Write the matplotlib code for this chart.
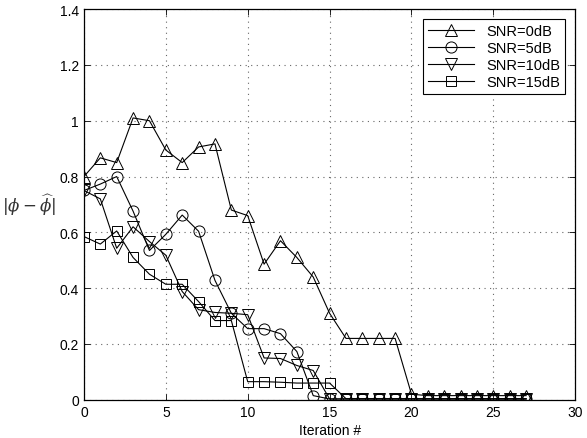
import matplotlib
matplotlib.use("Agg")
import matplotlib.pyplot as plt
import numpy as np

plt.rcParams.update({
    "font.family": ["Liberation Sans", "DejaVu Sans"],
    "font.size": 10,
    "mathtext.fontset": "dejavuserif",
    "xtick.direction": "in",
    "ytick.direction": "in",
})

iters = np.arange(28)
snr0 = [0.80, 0.867, 0.85, 1.01, 1.00, 0.895, 0.85, 0.906, 0.917, 0.68,
        0.66, 0.486, 0.57, 0.51, 0.44, 0.31, 0.22, 0.22, 0.22, 0.22,
        0.02, 0.015, 0.015, 0.015, 0.015, 0.015, 0.015, 0.015]
snr5 = [0.75, 0.773, 0.80, 0.676, 0.535, 0.593, 0.662, 0.604, 0.428, 0.31,
        0.255, 0.255, 0.237, 0.173, 0.015, 0.003, 0.003, 0.003, 0.003, 0.003,
        0.003, 0.003, 0.003, 0.003, 0.003, 0.003, 0.003, 0.003]
snr10 = [0.75, 0.72, 0.543, 0.62, 0.567, 0.518, 0.388, 0.323, 0.313, 0.31,
         0.305, 0.15, 0.148, 0.123, 0.105, 0.003, 0.003, 0.003, 0.003, 0.003,
         0.003, 0.003, 0.003, 0.003, 0.003, 0.003, 0.003, 0.003]
snr15 = [0.585, 0.558, 0.605, 0.51, 0.45, 0.414, 0.414, 0.352, 0.284, 0.284,
         0.065, 0.065, 0.063, 0.06, 0.06, 0.06, 0.004, 0.004, 0.004, 0.004,
         0.004, 0.004, 0.004, 0.004, 0.004, 0.004, 0.004, 0.004]

series = [(snr0, "^", "SNR=0dB"), (snr5, "o", "SNR=5dB"),
          (snr10, "v", "SNR=10dB"), (snr15, "s", "SNR=15dB")]

fig = plt.figure(figsize=(5.87, 4.39), dpi=100)
ax = fig.add_axes([0.143, 0.087, 0.837, 0.89])

for vals, mk, lab in series:
    ax.plot(iters, vals, color="black", linewidth=0.8, marker=mk,
            markersize=8 if mk != "s" else 6.5, markerfacecolor="none",
            markeredgecolor="black", markeredgewidth=0.7, label=lab)

ax.set_xlim(0, 30)
ax.set_ylim(0, 1.4)
ax.set_xticks(np.arange(0, 31, 5))
ax.set_yticks(np.arange(0, 1.41, 0.2))
ax.set_yticklabels(["0", "0.2", "0.4", "0.6", "0.8", "1", "1.2", "1.4"])
ax.grid(True, linestyle=(0, (1, 4)), color="#666666", linewidth=0.8)
for s in ax.spines.values():
    s.set_linewidth(0.9)
ax.tick_params(top=True, right=True, length=4, width=0.6)

ax.set_xlabel("Iteration #", labelpad=3)
ax.set_ylabel(r"$|\phi - \widehat{\phi}|$", rotation=0, fontsize=12,
              labelpad=22, va="center", color="#333333")

leg = ax.legend(loc="upper right", fancybox=False, framealpha=1,
                edgecolor="black", borderaxespad=0.7, handlelength=3.2,
                labelspacing=0.2, borderpad=0.35, fontsize=10.5)
leg.get_frame().set_linewidth(0.8)

fig.savefig("out.png", dpi=100)
